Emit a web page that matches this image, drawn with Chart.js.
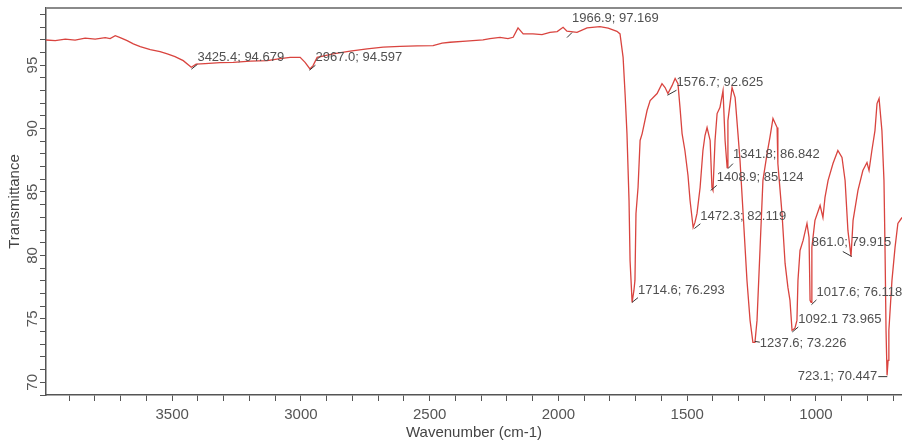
<!DOCTYPE html>
<html>
<head>
<meta charset="utf-8">
<script src="https://cdn.jsdelivr.net/npm/chart.js@4.4.1/dist/chart.umd.min.js"></script>
<style>
  html, body { margin: 0; padding: 0; background: #fff; }
</style>
</head>
<body>
<canvas id="ir" width="902" height="442"></canvas>
<script>
// ─── Spectrum ─────────────────────────────────────────────────────────────────
const wavenumbers = [
  3990, 3954, 3915, 3877, 3838, 3799, 3760, 3741, 3721, 3702, 3675, 3651, 3624,
  3585, 3547, 3519, 3489, 3457, 3426, 3407, 3372, 3314, 3263, 3197, 3131, 3081,
  3042, 3003, 2984, 2965, 2953, 2937, 2875, 2809, 2743, 2681, 2615, 2549, 2487,
  2452, 2421, 2359, 2293, 2266, 2227, 2196, 2176, 2157, 2137, 2099, 2064, 2033,
  2005, 1982, 1967, 1928, 1889, 1839, 1807, 1773, 1761, 1749, 1741, 1734, 1726,
  1722, 1714, 1707, 1703, 1699, 1691, 1683, 1675, 1656, 1644, 1617, 1598, 1586,
  1575, 1559, 1547, 1536, 1528, 1520, 1509, 1497, 1489, 1477, 1470, 1462, 1450,
  1439, 1431, 1423, 1411, 1404, 1400, 1392, 1384, 1373, 1361, 1353, 1345, 1342,
  1326, 1314, 1303, 1295, 1283, 1268, 1256, 1245, 1237, 1229, 1217, 1206, 1190,
  1179, 1167, 1151, 1148, 1132, 1120, 1109, 1101, 1093, 1082, 1074, 1070, 1062,
  1050, 1035, 1027, 1023, 1019, 1016, 1004, 984, 973, 965, 953, 934, 915, 899,
  887, 876, 864, 856, 837, 818, 802, 794, 783, 771, 763, 755, 744, 736, 732,
  728, 724, 720, 717, 705, 693, 682, 666,
];
const transmittance = [
  96.98, 96.93, 97.05, 96.97, 97.13, 97.05, 97.17, 97.09, 97.32, 97.17, 96.93, 96.67, 96.46,
  96.22, 96.06, 95.88, 95.67, 95.35, 94.83, 95.08, 95.12, 95.20, 95.22, 95.31, 95.35, 95.51,
  95.61, 95.61, 95.22, 94.70, 94.96, 95.61, 95.88, 96.10, 96.28, 96.42, 96.48, 96.51, 96.54,
  96.73, 96.80, 96.89, 96.98, 97.09, 97.19, 97.09, 97.19, 97.93, 97.46, 97.46, 97.40, 97.58,
  97.64, 97.98, 97.67, 97.58, 97.93, 98.03, 97.91, 97.66, 97.46, 95.61, 92.60, 89.60, 84.33,
  79.60, 76.30, 77.24, 78.03, 83.31, 85.35, 89.06, 89.60, 91.42, 92.20, 92.76, 93.54, 93.23,
  92.76, 93.38, 93.94, 93.54, 91.65, 89.60, 88.27, 86.30, 84.33, 82.20, 82.60, 83.31, 85.35,
  88.27, 89.45, 90.08, 89.06, 85.35, 85.12, 89.06, 91.18, 91.65, 92.99, 89.06, 86.93, 90.63,
  93.23, 92.44, 89.60, 87.48, 83.31, 78.03, 74.88, 73.15, 73.15, 74.88, 80.63, 85.91, 88.03,
  89.29, 90.79, 90.08, 87.24, 83.31, 79.37, 77.48, 76.46, 74.09, 74.25, 74.88, 78.03, 80.39,
  81.18, 82.52, 81.42, 76.46, 76.30, 80.63, 82.76, 83.94, 82.99, 84.57, 85.91, 87.24, 88.27, 87.72,
  85.91, 81.97, 79.92, 82.76, 85.12, 86.69, 87.32, 86.69, 88.27, 89.84, 91.97, 92.37, 89.84, 85.91, 80.63,
  74.09, 70.55, 71.73, 74.09, 78.03, 80.63, 82.52, 82.99,
];

// ─── Peak picks ───────────────────────────────────────────────────────────────
const peakWavenumbers = [3425.4, 2967.0, 1966.9, 1576.7, 1341.8, 1408.9, 1472.3,
                         1714.6, 1237.6, 1092.1, 1017.6, 861.0, 723.1];
const peakValues      = [94.679, 94.597, 97.169, 92.625, 86.842, 85.124, 82.119,
                         76.293, 73.226, 73.965, 76.118, 79.915, 70.447];
const peakTexts = [
  '3425.4; 94.679', '2967.0; 94.597', '1966.9; 97.169', '1576.7; 92.625',
  '1341.8; 86.842', '1408.9; 85.124', '1472.3; 82.119', '1714.6; 76.293',
  '1237.6; 73.226', '1092.1 73.965', '1017.6; 76.118', '861.0; 79.915',
  '723.1; 70.447',
];

// ─── Tick labels ──────────────────────────────────────────────────────────────
const xTickLabels = [3500, 3000, 2500, 2000, 1500, 1000];
const yTickLabels = [70, 75, 80, 85, 90, 95];

// label placement: [dx, dy, align] relative to the peak point (px)
const peakLabelOffsets = [
  [6, -12, 'left'], [6, -13, 'left'], [5, -19, 'left'], [9, -13, 'left'],
  [5, -14, 'left'], [6, -13, 'left'], [6, -12, 'left'], [6, -12, 'left'],
  [5, 2, 'left'],   [6, -13, 'left'], [5, -12, 'left'], [-40, -14, 'left'],
  [-10, 0, 'right'],
];

const FONT = '"Liberation Sans", Arial, sans-serif';
const AXIS = '#555';

// ─── Plugins ──────────────────────────────────────────────────────────────────

const topFrame = {
  id: 'topFrame',
  afterDraw(chart) {
    const { ctx, chartArea: a } = chart;
    ctx.save();
    ctx.strokeStyle = '#8a8a8a';
    ctx.lineWidth = 2;
    ctx.beginPath();
    ctx.moveTo(a.left, a.top);
    ctx.lineTo(a.right, a.top);
    ctx.stroke();
    ctx.restore();
  },
};

const peakLabels = {
  id: 'peakLabels',
  afterDatasetsDraw(chart) {
    const { ctx, scales: { x, y } } = chart;
    ctx.save();
    ctx.font = '13px ' + FONT;
    ctx.fillStyle = '#505050';
    ctx.strokeStyle = '#333';
    ctx.lineWidth = 1;
    ctx.textBaseline = 'middle';
    peakWavenumbers.forEach((wn, i) => {
      const px = x.getPixelForValue(wn);
      const py = y.getPixelForValue(peakValues[i]);
      const [dx, dy, align] = peakLabelOffsets[i];
      // short leader mark from the peak toward its label
      const ex = px + Math.sign(dx) * Math.min(Math.abs(dx), 9);
      const ey = py + Math.max(-5, Math.min(5, dy * 0.4));
      ctx.beginPath();
      ctx.moveTo(px, py);
      ctx.lineTo(ex, ey);
      ctx.stroke();
      ctx.textAlign = align;
      ctx.fillText(peakTexts[i], px + dx, py + dy);
    });
    ctx.restore();
  },
};

// ─── Chart ────────────────────────────────────────────────────────────────────

new Chart(document.getElementById('ir'), {
  type: 'line',
  data: {
    datasets: [{
      data: wavenumbers.map((wn, i) => ({ x: wn, y: transmittance[i] })),
      borderColor: '#d9443f',
      borderWidth: 1.3,
      pointRadius: 0,
      tension: 0,
      fill: false,
    }],
  },
  options: {
    responsive: false,
    animation: false,
    layout: { padding: { top: 8, right: 0, left: 0, bottom: 0 } },
    plugins: { legend: { display: false }, tooltip: { enabled: false } },
    scales: {
      x: {
        type: 'linear',
        reverse: true,
        min: 666,
        max: 3990,
        afterFit: s => { s.height = 47; },
        border: { display: true, color: AXIS, width: 1.5 },
        grid: { drawOnChartArea: false, drawTicks: true, tickLength: 6, tickColor: AXIS },
        ticks: {
          stepSize: 100,
          maxTicksLimit: 1000,
          includeBounds: false,
          autoSkip: false,
          maxRotation: 0,
          padding: 5,
          color: AXIS,
          font: { family: FONT, size: 15 },
          callback: v => (xTickLabels.includes(v) ? String(v) : ''),
        },
        title: {
          display: true,
          text: 'Wavenumber (cm-1)',
          color: '#444',
          font: { family: FONT, size: 15 },
          padding: { top: 0, bottom: 0 },
        },
      },
      y: {
        min: 69,
        max: 99.5,
        afterFit: s => { s.width = 46; },
        border: { display: true, color: AXIS, width: 1.5 },
        grid: { drawOnChartArea: false, drawTicks: true, tickLength: 6, tickColor: AXIS },
        ticks: {
          stepSize: 1,
          maxTicksLimit: 1000,
          includeBounds: false,
          autoSkip: false,
          minRotation: 90,
          maxRotation: 90,
          crossAlign: 'center',
          padding: -1,
          color: AXIS,
          font: { family: FONT, size: 15 },
          callback: v => (yTickLabels.includes(v) ? String(v) : ''),
        },
        title: {
          display: true,
          text: 'Transmittance',
          color: '#444',
          font: { family: FONT, size: 15 },
          padding: { top: 6, bottom: 0 },
        },
      },
    },
  },
  plugins: [topFrame, peakLabels],
});
</script>
</body>
</html>
